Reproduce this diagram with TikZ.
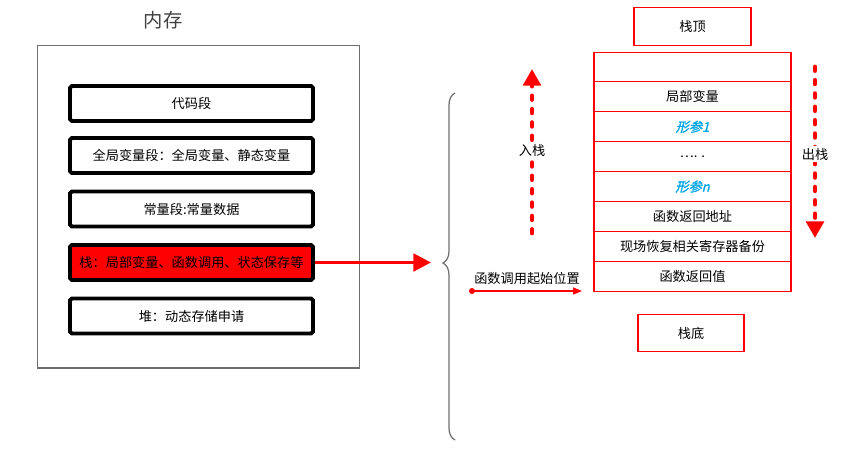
\documentclass[tikz,border=0pt]{standalone}
\usepackage{fontspec}
\setmainfont{Noto Sans CJK SC}
\newfontfamily\paramfont[FakeSlant=0.25,FakeBold=1.5]{Noto Sans CJK SC}
\usetikzlibrary{arrows.meta, positioning, decorations.pathreplacing}
\definecolor{stackred}{RGB}{255, 0, 0}
\definecolor{paramblue}{RGB}{0, 165, 230}
\definecolor{framegray}{RGB}{110, 110, 110}

\begin{document}
\begin{tikzpicture}[
    x=0.02cm, y=-0.02cm,
    seg/.style={rectangle, draw=black, line width=2.2pt, rounded corners=1pt, minimum width=4.86cm, minimum height=0.7cm, align=center, font=\fontsize{7.5}{9}\selectfont},
    cell/.style={rectangle, draw=stackred, line width=0.6pt, minimum width=3.94cm, minimum height=0.598cm, outer sep=0pt, inner sep=0pt, font=\fontsize{7.5}{9}\selectfont},
    tag/.style={rectangle, draw=stackred, line width=0.6pt, minimum height=0.75cm, font=\fontsize{7.5}{9}\selectfont},
    bigarrow/.style={-{Triangle[length=10pt,width=10pt]}, line width=1.8pt, draw=stackred},
    flow/.style={-{Triangle[length=9.5pt,width=10pt]}, line width=2.8pt, draw=stackred, dash pattern=on 2pt off 5.6pt, line cap=round},
    lbl/.style={font=\fontsize{7.5}{9}\selectfont, fill=white, inner sep=1pt}
]
    \useasboundingbox (0,0) rectangle (850,451);

    % memory layout
    \node[font=\fontsize{11}{13}\selectfont, text=darkgray] (title) at (163,20) {内存};
    \node[draw=framegray, line width=0.6pt, minimum width=6.46cm, minimum height=6.46cm] (memory) at (198.5,206.5) {};

    \node[seg] (codeseg) at (191.5,103.5) {代码段};
    \node[seg] (globalseg) at (191.5,155.5) {全局变量段：全局变量、静态变量};
    \node[seg] (constseg) at (191.5,209) {常量段:常量数据};
    \node[seg, fill=stackred] (stackseg) at (191.5,262.5) {栈：局部变量、函数调用、状态保存等};
    \node[seg] (heapseg) at (191.5,316) {堆：动态存储申请};

    \coordinate (bracetip) at (431,262.5);
    \draw[bigarrow] (stackseg.east) -- (bracetip);

    \draw[framegray, line width=0.7pt, decorate, decoration={brace, amplitude=0.24cm, aspect=0.51}] (455,440) -- (455,93);

    % stack frame
    \node[tag, minimum width=2.34cm] (top) at (692.5,26.5) {栈顶};
    \node[cell] (c0) at (692.5,67) {};
    \node[cell, below=0pt of c0] (c1) {局部变量};
    \node[cell, below=0pt of c1] (c2) {\textcolor{paramblue}{\paramfont 形参1}};
    \node[cell, below=0pt of c2] (c3) {…. .};
    \node[cell, below=0pt of c3] (c4) {\textcolor{paramblue}{\paramfont 形参n}};
    \node[cell, below=0pt of c4] (c5) {函数返回地址};
    \node[cell, below=0pt of c5] (c6) {现场恢复相关寄存器备份};
    \node[cell, below=0pt of c6] (c7) {函数返回值};
    \node[tag, minimum width=2.12cm] (bottom) at (691,333) {栈底};

    % push / pop
    \coordinate (pushfrom) at (532,233);
    \coordinate (pushto) at (532,69);
    \draw[flow] (pushfrom) -- (pushto);
    \node[lbl] (pushlbl) at (532,150) {入栈};

    \coordinate (popfrom) at (815,67);
    \coordinate (popto) at (815,238);
    \draw[flow] (popfrom) -- (popto);
    \node[lbl] (poplbl) at (815,154) {出栈};

    \coordinate (callstart) at (472,291);
    \coordinate (callend) at (582,291);
    \fill[stackred] (callstart) circle (1.7pt);
    \draw[draw=stackred, line width=0.6pt, -{Triangle[length=5pt,width=4pt]}] (callstart) -- node[above, text=black, font=\fontsize{7.5}{9}\selectfont] (calllbl) {函数调用起始位置} (callend);
\end{tikzpicture}
\end{document}
